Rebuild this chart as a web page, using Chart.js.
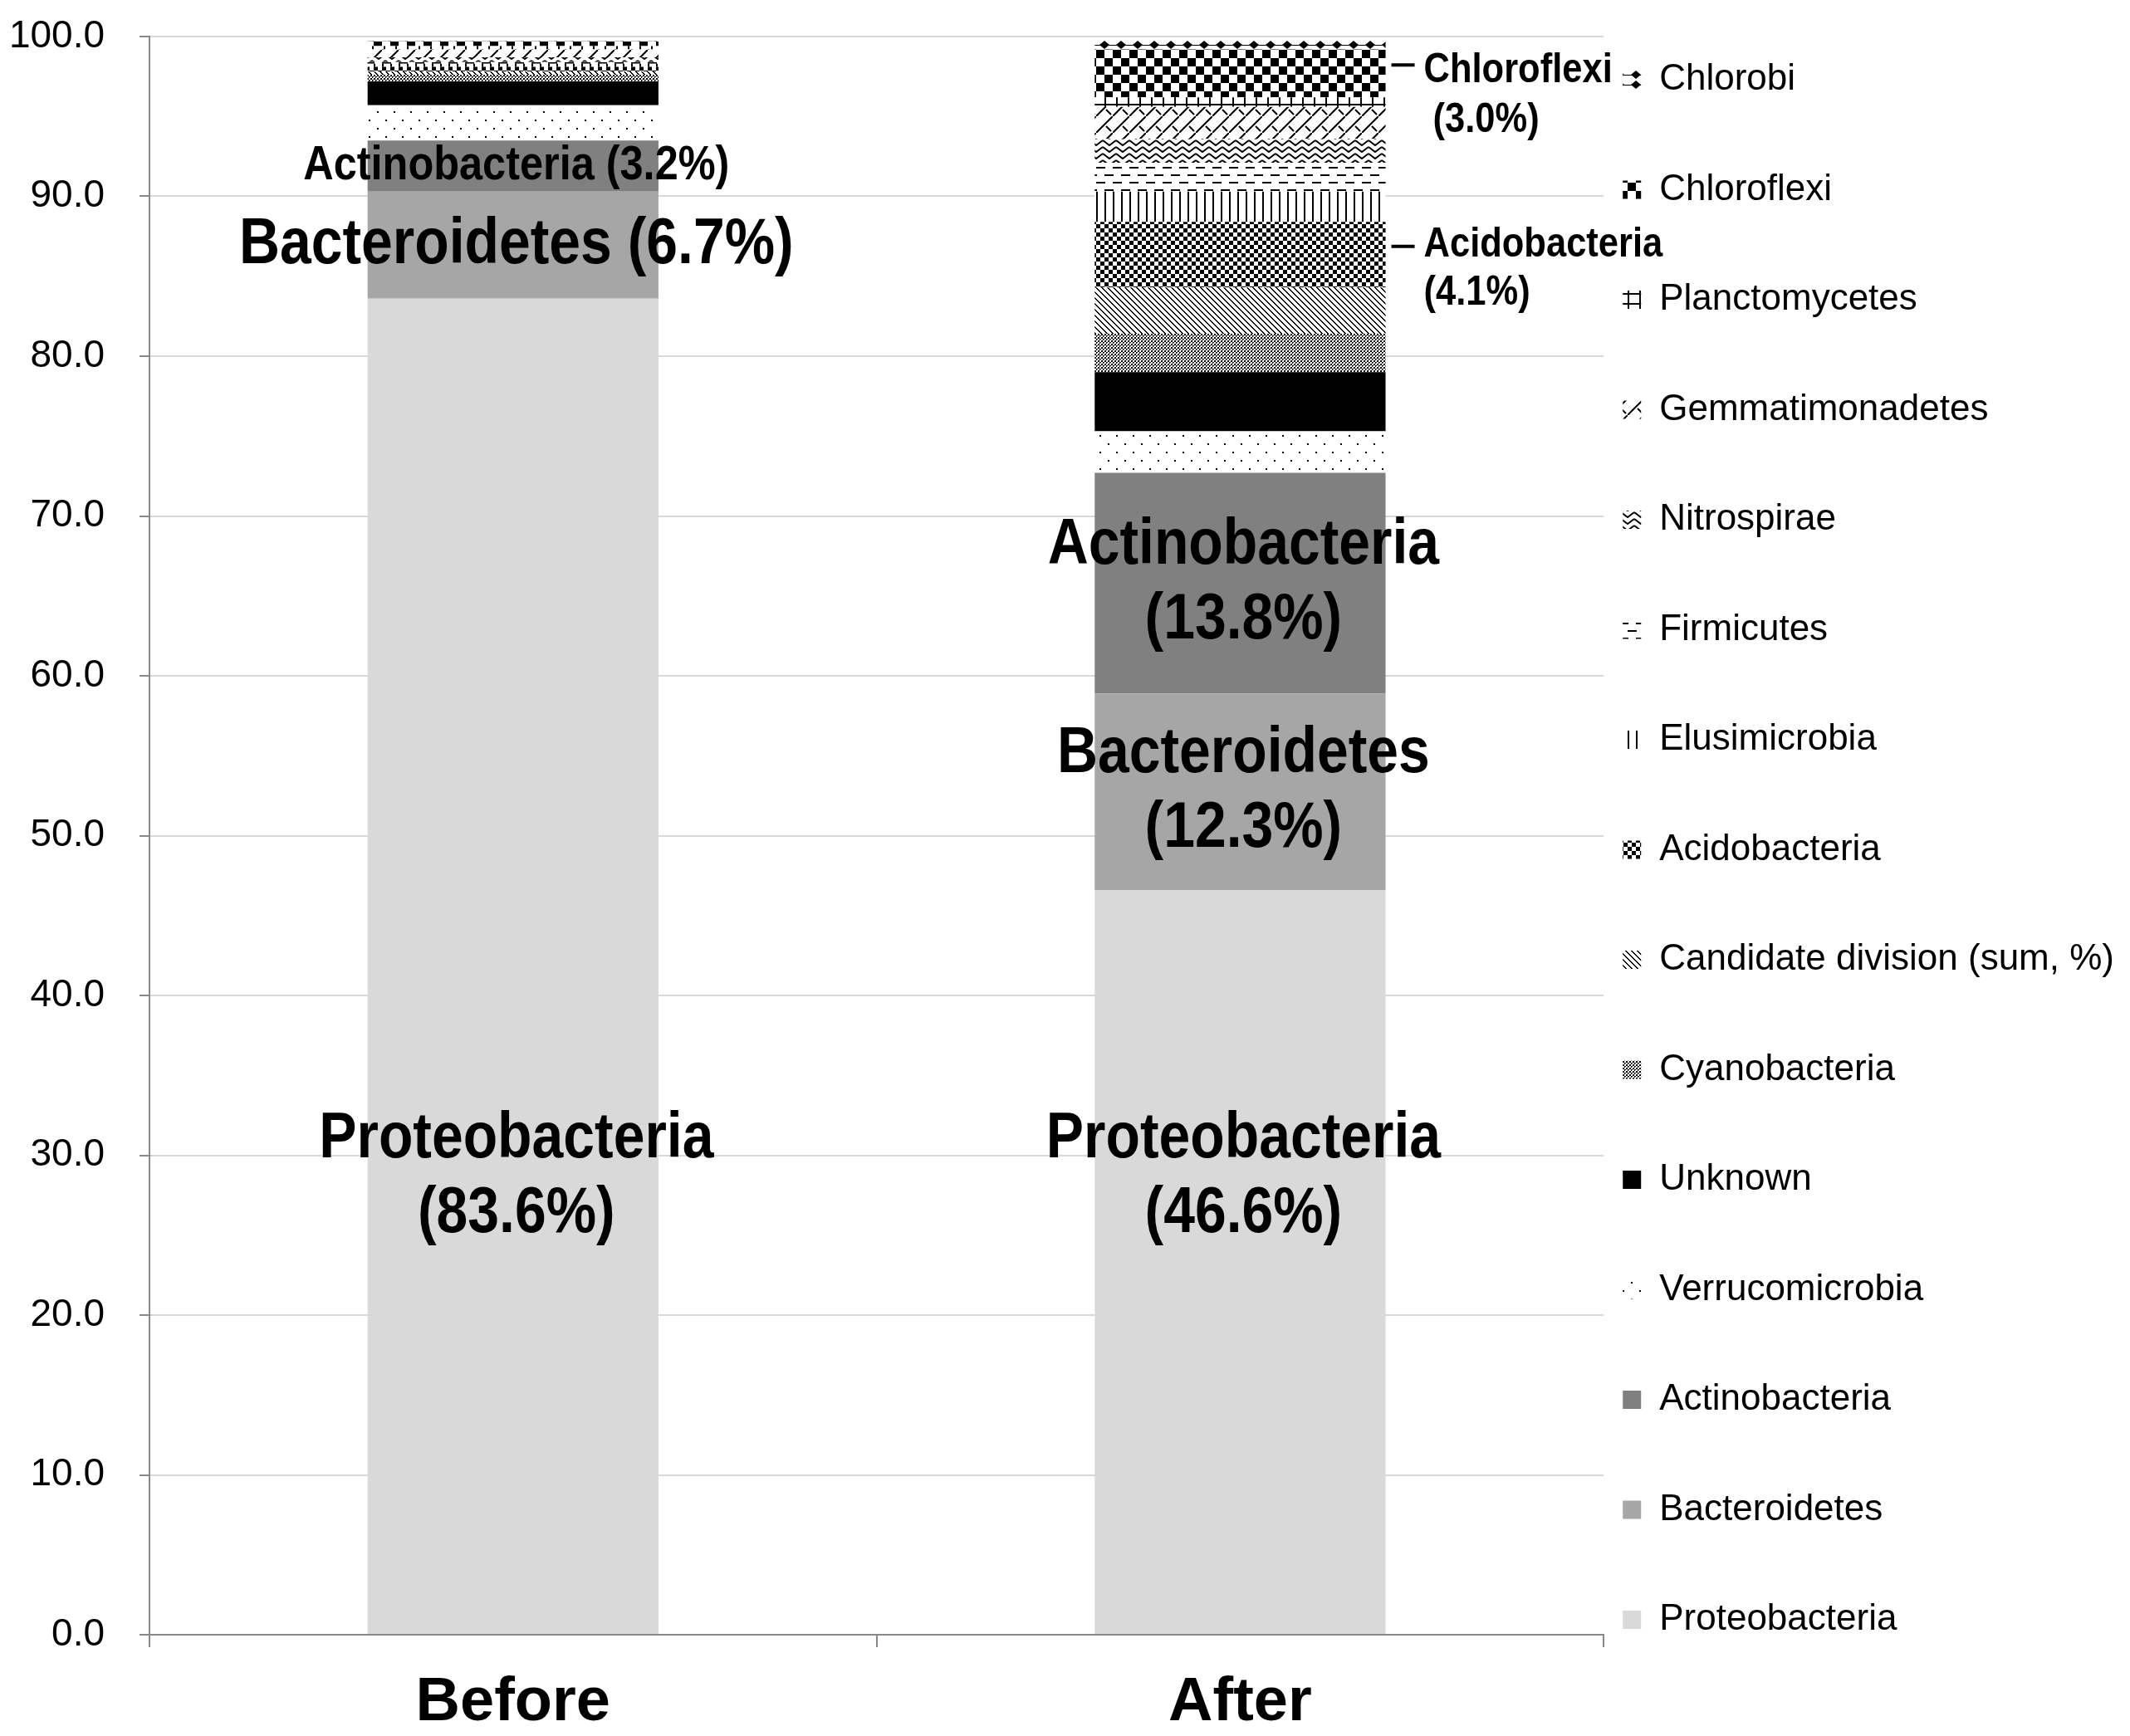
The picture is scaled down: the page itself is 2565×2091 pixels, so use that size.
<!DOCTYPE html>
<html>
<head>
<meta charset="utf-8">
<script src="https://cdn.jsdelivr.net/npm/chart.js@4/dist/chart.umd.min.js"></script>
<style>
  html, body { margin: 0; padding: 0; background: #fff; }
  #wrap { width: 2565px; height: 2091px; position: relative; }
</style>
</head>
<body>
<div id="wrap"><canvas id="c"></canvas></div>
<script>
// ---------------- DATA ----------------
const categories = ['Before', 'After'];
const phyla = ['Proteobacteria', 'Bacteroidetes', 'Actinobacteria', 'Verrucomicrobia', 'Unknown',
  'Cyanobacteria', 'Candidate division (sum, %)', 'Acidobacteria', 'Elusimicrobia', 'Firmicutes',
  'Nitrospirae', 'Gemmatimonadetes', 'Planctomycetes', 'Chloroflexi', 'Chlorobi'];
const beforeValues = [83.6, 6.7, 3.2, 2.2, 1.5, 0.4, 0.2, 0.3, 0.2, 0.1, 0.3, 0.5, 0.2, 0.3, 0.1];
const afterValues  = [46.6, 12.3, 13.8, 2.6, 3.7, 2.4, 2.9, 4.1, 1.9, 1.8, 1.5, 2.0, 0.6, 3.0, 0.6];
const yTicks = [0, 10, 20, 30, 40, 50, 60, 70, 80, 90, 100];

// ---------------- PATTERNS ----------------
function tile(w, h, draw) {
  const c = document.createElement('canvas');
  c.width = w; c.height = h;
  const g = c.getContext('2d');
  g.fillStyle = '#fff'; g.fillRect(0, 0, w, h);
  g.fillStyle = '#000'; g.strokeStyle = '#000';
  draw(g, w, h);
  return g.createPattern(c, 'repeat');
}
function pix(w, h, fn) {
  return tile(w, h, (g) => {
    for (let y = 0; y < h; y++) for (let x = 0; x < w; x++) if (fn(x, y)) g.fillRect(x, y, 1, 1);
  });
}
const fills = {
  'Proteobacteria': '#d9d9d9',
  'Bacteroidetes': '#a6a6a6',
  'Actinobacteria': '#808080',
  'Verrucomicrobia': tile(20, 20, g => { g.fillRect(4, 4, 2, 2); g.fillRect(14, 14, 2, 2); }),
  'Unknown': '#000000',
  'Cyanobacteria': pix(8, 8, (x, y) => (((x >> 1) + (y >> 1)) % 2 === 0) && !(x % 4 === 1 && y % 4 === 1)),
  'Candidate division (sum, %)': pix(7, 7, (x, y) => { const d = ((x - y) % 7 + 7) % 7; return d === 0 || d === 1; }),
  'Acidobacteria': tile(10, 10, g => { g.fillRect(0, 0, 5, 5); g.fillRect(5, 5, 5, 5); }),
  'Elusimicrobia': tile(10, 10, g => { g.fillRect(0, 0, 2, 10); }),
  'Firmicutes': tile(20, 18, g => { g.fillRect(0, 3, 11, 2); g.fillRect(10, 12, 10, 2); g.fillRect(0, 12, 1, 2); }),
  'Nitrospirae': tile(16, 8, g => { g.lineWidth = 2; g.beginPath(); g.moveTo(0, 1); g.lineTo(8, 7); g.lineTo(16, 1); g.stroke(); }),
  'Gemmatimonadetes': tile(20, 20, g => {
    g.lineWidth = 2; g.beginPath(); g.moveTo(-2, 22); g.lineTo(22, -2); g.stroke();
    g.beginPath(); g.moveTo(12, 12); g.lineTo(18, 18); g.stroke();
  }),
  'Planctomycetes': tile(14, 12, g => { g.fillRect(0, 0, 2, 12); g.fillRect(0, 5, 14, 2); }),
  'Chloroflexi': tile(20, 20, g => { g.fillRect(0, 0, 10, 10); g.fillRect(10, 10, 10, 10); }),
  'Chlorobi': tile(20, 12, g => {
    g.fillRect(0, 6, 20, 1);
    g.beginPath(); g.moveTo(10, 1); g.lineTo(16, 6); g.lineTo(10, 11); g.lineTo(4, 6); g.closePath(); g.fill();
  })
};

// ---------------- LABEL CONFIG ----------------
const pct = v => '(' + v.toFixed(1) + '%)';
const inBarLabels = [
  { phylum: 'Actinobacteria', bar: 0, lines: ['Actinobacteria ' + pct(beforeValues[2])], size: 58 },
  { phylum: 'Bacteroidetes', bar: 0, lines: ['Bacteroidetes ' + pct(beforeValues[1])], size: 78 },
  { phylum: 'Proteobacteria', bar: 0, lines: ['Proteobacteria', pct(beforeValues[0])], size: 78, anchor: 28.65 },
  { phylum: 'Actinobacteria', bar: 1, lines: ['Actinobacteria', pct(afterValues[2])], size: 78 },
  { phylum: 'Bacteroidetes', bar: 1, lines: ['Bacteroidetes', pct(afterValues[1])], size: 78 },
  { phylum: 'Proteobacteria', bar: 1, lines: ['Proteobacteria', pct(afterValues[0])], size: 78, anchor: 28.65 }
];
const sideLabels = [
  { phylum: 'Chloroflexi', bar: 1, lines: ['Chloroflexi', pct(afterValues[13])], textDy: 7, gap: 60, indent: 11 },
  { phylum: 'Acidobacteria', bar: 1, lines: ['Acidobacteria', pct(afterValues[7])], textDy: -2, gap: 58, indent: 0 }
];

const FONT = "'Liberation Sans', Arial, sans-serif";
Chart.defaults.font.family = FONT;
Chart.defaults.color = '#000';

function drawCondensed(ctx, text, x, y, sx) {
  ctx.save();
  ctx.translate(x, y);
  ctx.scale(sx, 1);
  ctx.fillText(text, 0, 0);
  ctx.restore();
}

const labelPlugin = {
  id: 'barLabels',
  afterDatasetsDraw(chart) {
    const ctx = chart.ctx;
    const yScale = chart.scales.y;
    ctx.save();
    ctx.fillStyle = '#000';
    ctx.textBaseline = 'middle';
    inBarLabels.forEach(l => {
      const di = phyla.indexOf(l.phylum);
      const el = chart.getDatasetMeta(di).data[l.bar];
      const cy = l.anchor !== undefined ? yScale.getPixelForValue(l.anchor) : (el.y + el.base) / 2;
      ctx.font = 'bold ' + l.size + 'px ' + FONT;
      ctx.textAlign = 'center';
      const gap = 90;
      l.lines.forEach((t, k) => {
        const off = (k - (l.lines.length - 1) / 2) * gap;
        drawCondensed(ctx, t, el.x + 4, cy + off, 0.87);
      });
    });
    sideLabels.forEach(l => {
      const di = phyla.indexOf(l.phylum);
      const el = chart.getDatasetMeta(di).data[l.bar];
      const cy = (el.y + el.base) / 2 - 10;
      const right = el.x + el.width / 2;
      ctx.fillRect(right + 7, cy - 2, 28, 4);
      ctx.font = 'bold 50px ' + FONT;
      ctx.textAlign = 'left';
      drawCondensed(ctx, l.lines[0], right + 46, cy + l.textDy, 0.87);
      drawCondensed(ctx, l.lines[1], right + 46 + l.indent, cy + l.textDy + l.gap, 0.87);
    });
    ctx.restore();
  }
};

const datasets = phyla.map((p, i) => ({
  label: p,
  data: [beforeValues[i], afterValues[i]],
  backgroundColor: fills[p],
  borderWidth: 0,
  barPercentage: 0.4,
  categoryPercentage: 1.0
}));

new Chart(document.getElementById('c'), {
  type: 'bar',
  data: { labels: categories, datasets },
  plugins: [labelPlugin],
  options: {
    responsive: true,
    maintainAspectRatio: false,
    animation: false,
    devicePixelRatio: 1,
    layout: { padding: { top: 44, right: 9, bottom: 0, left: 13 } },
    plugins: {
      tooltip: { enabled: false },
      legend: {
        position: 'right',
        align: 'start',
        title: { display: true, text: ' ', font: { size: 4, lineHeight: 1.75 }, padding: 0 },
        labels: {
          boxWidth: 22,
          boxHeight: 22,
          padding: 23,
          color: '#000',
          font: { size: 44, lineHeight: 109.5 / 44 },
          generateLabels(chart) {
            const items = Chart.defaults.plugins.legend.labels.generateLabels(chart);
            items.forEach(it => { it.text = [it.text]; it.lineWidth = 0; });
            return items.reverse();
          }
        }
      }
    },
    scales: {
      x: {
        stacked: true,
        afterFit(s) { s.height = 122; s.paddingLeft = 0; s.paddingRight = 0; },
        grid: { display: true, drawOnChartArea: false, offset: true, tickLength: 15, tickColor: '#888', lineWidth: 2 },
        border: { color: '#888', width: 2 },
        ticks: { font: { size: 74, weight: 'bold' }, color: '#000', padding: 23 }
      },
      y: {
        stacked: true,
        min: 0,
        max: 100,
        afterBuildTicks(axis) { axis.ticks = yTicks.map(v => ({ value: v })); },
        afterFit(s) { s.width = 167; s.paddingTop = 0; s.paddingBottom = 0; },
        grid: { color: '#d9d9d9', lineWidth: 2, tickColor: '#888', tickLength: 12 },
        border: { color: '#888', width: 2 },
        ticks: { font: { size: 46 }, color: '#000', padding: 42, callback: v => Number(v).toFixed(1) }
      }
    }
  }
});
</script>
</body>
</html>
